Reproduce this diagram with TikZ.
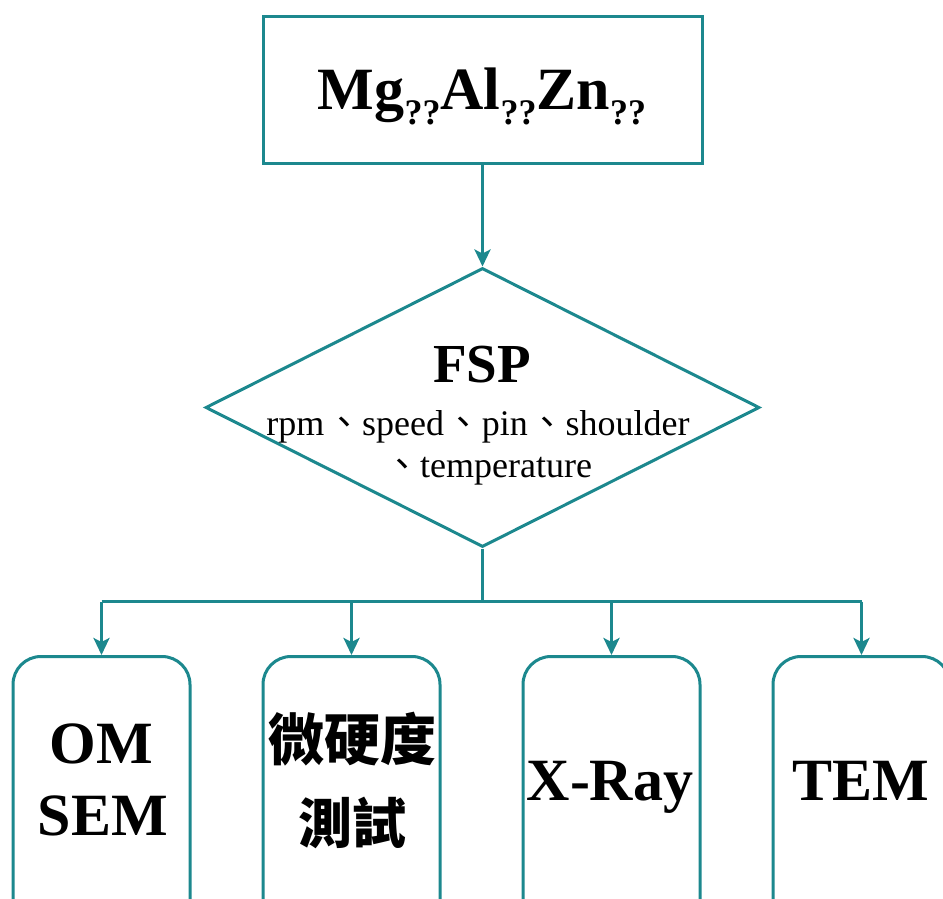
\documentclass[tikz,border=0pt]{standalone}
\usepackage{fontspec}
\setmainfont{Liberation Serif}
\newfontfamily\cjk{Noto Sans CJK TC}
\usetikzlibrary{shapes.geometric,arrows.meta,calc}
\definecolor{flowteal}{RGB}{28,136,142}
\tikzset{
  outline/.style={draw=flowteal, line width=3pt},
  topbox/.style={outline, rectangle, minimum width=439pt, minimum height=146pt, inner sep=0pt},
  choice/.style={outline, diamond, minimum width=554pt, minimum height=279pt, inner sep=0pt},
  testbox/.style={outline, rectangle, rounded corners=28pt, minimum width=177pt, minimum height=300pt, inner sep=0pt, anchor=north},
  flow/.style={draw=flowteal, line width=3pt, -{Stealth[length=17pt,width=16pt,inset=4pt]}},
  link/.style={draw=flowteal, line width=3pt},
  label/.style={anchor=base, inner sep=0pt, text=black},
}
\newcommand{\bigbold}{\fontsize{60}{70}\selectfont\bfseries}
\newcommand{\subq}{\raisebox{-15pt}{\fontsize{36}{40}\selectfont\bfseries ??}}
\newcommand{\listsep}{\hspace{0.05em}{\cjk 、}}
\begin{document}
\begin{tikzpicture}[x=1pt,y=-1pt]
  \useasboundingbox[fill=white] (0,0) rectangle (943,899);

  % alloy box
  \node[topbox] (alloy) at (482.5,90) {};
  \node[label] (alloytext) at (482,110) {\bigbold Mg\subq Al\subq Zn\subq};

  % processing step
  \node[choice] (fsp) at (482.5,407.5) {};
  \node[label] (fsptitle) at (482,382) {\fontsize{55}{60}\selectfont\bfseries FSP};
  \node[label] (fspline1) at (478,435) {\fontsize{36}{40}\selectfont rpm\listsep speed\listsep pin\listsep shoulder};
  \node[label] (fspline2) at (488,477) {\fontsize{36}{40}\selectfont {\cjk 、}temperature};

  % tests
  \node[testbox] (om)  at (101.5,655) {};
  \node[testbox] (hv)  at (351.5,655) {};
  \node[testbox] (xrd) at (611.5,655) {};
  \node[testbox] (tem) at (861.5,655) {};

  \node[label] (omtext)  at (101.5,763) {\bigbold OM};
  \node[label] (semtext) at (103,835) {\bigbold SEM};
  \node[label] (hvtext1) at (352,760) {\fontsize{56}{60}\selectfont\cjk\bfseries 微硬度};
  \node[label] (hvtext2) at (352,843) {\fontsize{54}{60}\selectfont\cjk\bfseries 測試};
  \node[label] (xrdtext) at (610,800) {\bigbold X-Ray};
  \node[label] (temtext) at (861,800) {\bigbold TEM};

  % connectors
  \draw[flow] (alloy.south) -- (fsp.north);
  \coordinate (split) at ($(fsp.south)+(0,53)$);
  \draw[link] (fsp.south) -- (split);
  \draw[link] (split -| om.north) -- (split -| tem.north);
  \draw[flow] (split -| om.north) -- (om.north);
  \draw[flow] (split -| hv.north) -- (hv.north);
  \draw[flow] (split -| xrd.north) -- (xrd.north);
  \draw[flow] (split -| tem.north) -- (tem.north);
\end{tikzpicture}
\end{document}
